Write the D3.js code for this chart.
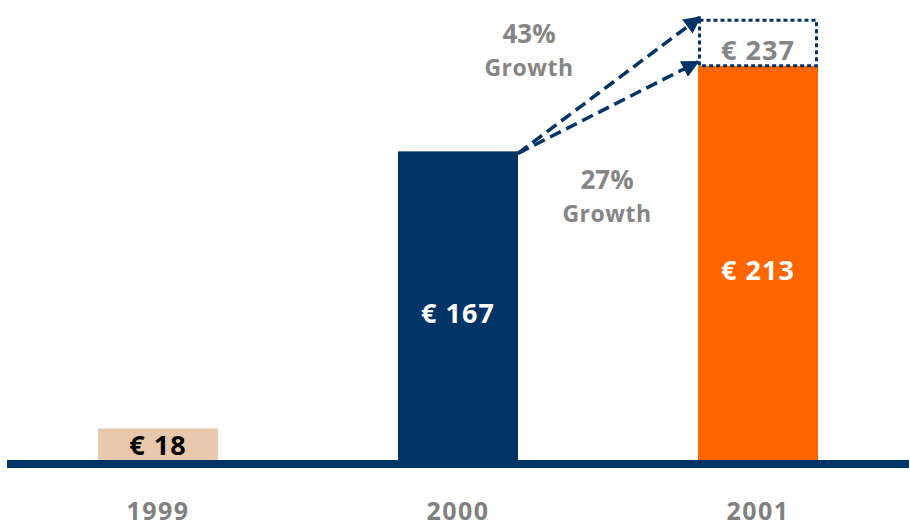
<!DOCTYPE html>
<html lang="en">
<head>
  <meta charset="UTF-8">
  <title>Revenue 1999-2001</title>
  <script src="https://d3js.org/d3.v7.min.js"></script>
  <style>
    body { margin: 0; background: #fff; }
    text { font-family: "Open Sans", "DejaVu Sans", sans-serif; font-weight: bold; }
    .year { font-size: 25px; fill: #808080; letter-spacing: 1.5px; }
    .val { font-size: 27px; letter-spacing: 1px; }
    .growth-pct { font-size: 26px; fill: #858585; }
    .growth-word { font-size: 23px; fill: #858585; letter-spacing: 0.5px; }
  </style>
</head>
<body>
  <div id="chart"></div>
  <script>
    const years = ["1999", "2000", "2001"];
    const values = [18, 167, 213];
    const projected = 237;           // dotted target on top of 2001
    const growthLabels = ["43%", "27%"];
    const barColors = ["#e8c8aa", "#003366", "#ff6600"];
    const labelColors = ["#000000", "#ffffff", "#ffffff"];

    const W = 910, H = 530;
    const navy = "#003366";

    const svg = d3.select("#chart").append("svg")
      .attr("width", W).attr("height", H);

    const x = d3.scaleBand()
      .domain(years)
      .range([8, 908])
      .paddingInner(0.6)
      .paddingOuter(0.3);

    const y = d3.scaleLinear()
      .domain([0, 250])
      .range([462, 462 - 250 * 1.86]);

    // bars
    svg.selectAll(".bar")
      .data(years)
      .enter().append("rect")
      .attr("class", "bar")
      .attr("x", d => x(d))
      .attr("y", (d, i) => y(values[i]))
      .attr("width", x.bandwidth())
      .attr("height", (d, i) => y(0) - y(values[i]))
      .attr("fill", (d, i) => barColors[i]);

    // dotted projection box
    const last = years[2];
    svg.append("rect")
      .attr("x", x(last) + 1.5)
      .attr("y", y(projected) - 1)
      .attr("width", x.bandwidth() - 3)
      .attr("height", y(values[2]) - y(projected) + 1)
      .attr("fill", "none")
      .attr("stroke", navy)
      .attr("stroke-width", 3)
      .attr("stroke-dasharray", "4,3");

    // baseline
    svg.append("line")
      .attr("x1", 7).attr("x2", 909)
      .attr("y1", y(0) + 2).attr("y2", y(0) + 2)
      .attr("stroke", navy)
      .attr("stroke-width", 8);

    // value labels
    const vmid = (i) => (y(values[i]) + y(0)) / 2;
    svg.selectAll(".val")
      .data(years)
      .enter().append("text")
      .attr("class", "val")
      .attr("x", d => x(d) + x.bandwidth() / 2)
      .attr("y", (d, i) => i === 0 ? y(values[0]) + 26 : vmid(i) + 16)
      .attr("text-anchor", "middle")
      .attr("fill", (d, i) => labelColors[i])
      .text((d, i) => `€ ${values[i]}`);

    svg.append("text")
      .attr("class", "val")
      .attr("x", x(last) + x.bandwidth() / 2)
      .attr("y", (y(projected) + y(values[2])) / 2 + 16)
      .attr("text-anchor", "middle")
      .attr("fill", "#858585")
      .text(`€ ${projected}`);

    // year labels
    svg.selectAll(".year")
      .data(years)
      .enter().append("text")
      .attr("class", "year")
      .attr("x", d => x(d) + x.bandwidth() / 2)
      .attr("y", 520)
      .attr("text-anchor", "middle")
      .text(d => d);

    // arrows
    svg.append("defs").append("marker")
      .attr("id", "head")
      .attr("viewBox", "0 0 10 10")
      .attr("refX", 9).attr("refY", 5)
      .attr("markerWidth", 5.5).attr("markerHeight", 5)
      .attr("orient", "auto")
      .attr("markerUnits", "strokeWidth")
      .append("path")
      .attr("d", "M0,0 L10,5 L0,10 Z")
      .attr("fill", navy);

    const sx = x(years[1]) + x.bandwidth(), sy = y(values[1]) + 2;
    const targets = [[x(last) + 2, y(projected) - 4], [x(last), y(values[2]) - 4]];
    svg.selectAll(".arrow")
      .data(targets)
      .enter().append("line")
      .attr("class", "arrow")
      .attr("x1", sx).attr("y1", sy)
      .attr("x2", d => d[0]).attr("y2", d => d[1])
      .attr("stroke", navy)
      .attr("stroke-width", 3.5)
      .attr("stroke-dasharray", "12,6")
      .attr("marker-end", "url(#head)");

    // growth annotations
    const growthPos = [[529, 43, 76], [607, 189, 222]];
    growthLabels.forEach((g, i) => {
      svg.append("text").attr("class", "growth-pct")
        .attr("x", growthPos[i][0]).attr("y", growthPos[i][1])
        .attr("text-anchor", "middle").text(g);
      svg.append("text").attr("class", "growth-word")
        .attr("x", growthPos[i][0]).attr("y", growthPos[i][2])
        .attr("text-anchor", "middle").text("Growth");
    });
  </script>
</body>
</html>
